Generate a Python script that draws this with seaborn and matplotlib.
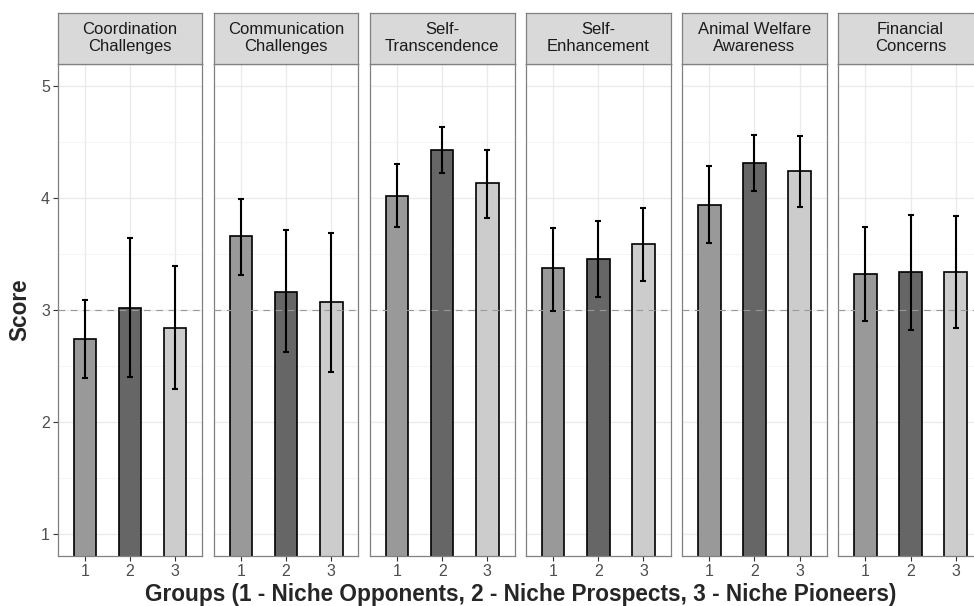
import numpy as np
import pandas as pd
import seaborn as sns
import matplotlib.pyplot as plt

# facet labels and group labels
dimensions = ["Coordination\nChallenges", "Communication\nChallenges", "Self-\nTranscendence",
              "Self-\nEnhancement", "Animal Welfare\nAwareness", "Financial\nConcerns"]
groups = ["1", "2", "3"]

# mean score per dimension (rows) and group (columns)
means = [
    [2.74, 3.02, 2.84],
    [3.66, 3.16, 3.07],
    [4.02, 4.43, 4.13],
    [3.37, 3.45, 3.59],
    [3.94, 4.31, 4.24],
    [3.32, 3.34, 3.34],
]
ci_low = [
    [2.39, 2.40, 2.29],
    [3.31, 2.62, 2.44],
    [3.74, 4.22, 3.82],
    [2.99, 3.11, 3.26],
    [3.60, 4.06, 3.92],
    [2.90, 2.82, 2.84],
]
ci_high = [
    [3.09, 3.64, 3.39],
    [3.99, 3.71, 3.69],
    [4.30, 4.63, 4.43],
    [3.73, 3.79, 3.91],
    [4.28, 4.56, 4.55],
    [3.74, 3.85, 3.84],
]

group_colors = {"1": "#999999", "2": "#666666", "3": "#CCCCCC"}

rows = []
for d, dim in enumerate(dimensions):
    for g, grp in enumerate(groups):
        rows.append({"dimension": dim, "group": grp, "score": means[d][g],
                     "low": ci_low[d][g], "high": ci_high[d][g]})
df = pd.DataFrame(rows)

sns.set_style("white")
plt.rcParams['font.family'] = ['Liberation Sans', 'DejaVu Sans']

fig = plt.figure(figsize=(9.74, 6.06), dpi=100)
W, H = 974, 606
left_px, pitch_px, width_px = 57.7, 156.1, 144.6
top_px, bottom_px, strip_top_px = 63.5, 556, 13.3
border = "#808080"

for i, dim in enumerate(dimensions):
    sub = df[df["dimension"] == dim]
    x0 = (left_px + i * pitch_px) / W
    ax = fig.add_axes([x0, 1 - bottom_px / H, width_px / W, (bottom_px - top_px) / H])
    ax.set_axisbelow(True)
    sns.barplot(data=sub, x="group", y="score", hue="group", palette=group_colors,
                order=groups, hue_order=groups, width=0.5, edgecolor="black",
                linewidth=1.2, legend=False, errorbar=None, ax=ax)
    ax.errorbar(x=np.arange(len(groups)), y=sub["score"],
                yerr=[sub["score"] - sub["low"], sub["high"] - sub["score"]],
                fmt="none", ecolor="black", elinewidth=1.5, capsize=2.4, capthick=1.5, zorder=5)
    ax.axhline(3, color="#999999", linestyle=(0, (6, 5)), linewidth=0.8, zorder=4)

    ax.set_xlim(-0.6, 2.6)
    ax.set_ylim(0.8, 5.2)
    ax.set_yticks([1, 2, 3, 4, 5])
    ax.set_yticks([1.5, 2.5, 3.5, 4.5], minor=True)
    ax.grid(True, which="major", color="#EBEBEB", linewidth=1.0)
    ax.grid(True, which="minor", axis="y", color="#F2F2F2", linewidth=0.6)
    ax.set_xlabel("")
    ax.set_ylabel("")
    ax.tick_params(axis="x", length=3.5, width=0.8, color="#333333", labelsize=11.5,
                   labelcolor="#4D4D4D", pad=2, bottom=True)
    if i == 0:
        ax.tick_params(axis="y", length=3.5, width=0.8, color="#333333", labelsize=11.5,
                       labelcolor="#4D4D4D", pad=2, left=True)
    else:
        ax.tick_params(axis="y", left=False, labelleft=False)
    ax.tick_params(axis="y", which="minor", left=False)
    for sp in ax.spines.values():
        sp.set_color(border)
        sp.set_linewidth(0.9)

    sax = fig.add_axes([x0, 1 - top_px / H, width_px / W, (top_px - strip_top_px) / H])
    sax.set_facecolor("#D9D9D9")
    sax.set_xticks([])
    sax.set_yticks([])
    for sp in sax.spines.values():
        sp.set_color(border)
        sp.set_linewidth(0.9)
    sax.text(0.5, 0.5, dim, ha="center", va="center", fontsize=12, color="#1A1A1A",
             linespacing=1.15, transform=sax.transAxes)

fig.text((left_px + (5 * pitch_px + width_px) / 2) / W, 1 - 601 / H,
         "Groups (1 - Niche Opponents, 2 - Niche Prospects, 3 - Niche Pioneers)",
         ha="center", va="baseline", fontsize=16.3, fontweight="bold")
fig.text(20 / W, 1 - 310 / H, "Score", ha="center", va="center", rotation=90,
         fontsize=16.3, fontweight="bold")

fig.savefig("out.png", dpi=100)
